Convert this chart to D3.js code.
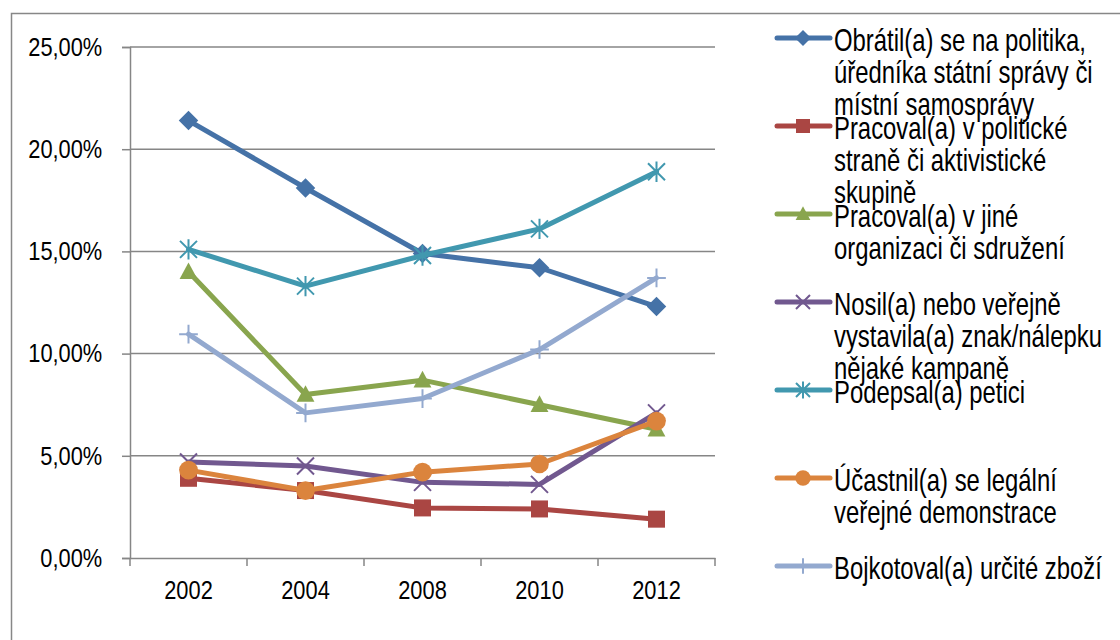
<!DOCTYPE html>
<html>
<head>
<meta charset="utf-8">
<script src="https://cdn.jsdelivr.net/npm/d3@7"></script>
<style>
  body { margin: 0; background: #fff; }
  svg { display: block; font-family: "Liberation Sans", Arial, sans-serif; }
</style>
</head>
<body>
<svg id="chart"></svg>
<script>
const years = ["2002", "2004", "2008", "2010", "2012"];
const yTicks = [0, 5, 10, 15, 20, 25];

const seriesNames = [
  "Obrátil(a) se na politika,\núředníka státní správy či\nmístní samosprávy",
  "Pracoval(a) v politické\nstraně či aktivistické\nskupině",
  "Pracoval(a) v jiné\norganizaci či sdružení",
  "Nosil(a) nebo veřejně\nvystavila(a) znak/nálepku\nnějaké kampaně",
  "Podepsal(a) petici",
  "Účastnil(a) se legální\nveřejné demonstrace",
  "Bojkotoval(a) určité zboží"
];

const politik = [21.4, 18.1, 14.9, 14.2, 12.3];
const strana = [3.9, 3.3, 2.45, 2.4, 1.9];
const organizace = [14.0, 8.0, 8.7, 7.5, 6.3];
const znak = [4.7, 4.5, 3.7, 3.6, 7.1];
const petice = [15.1, 13.3, 14.8, 16.1, 18.9];
const demonstrace = [4.3, 3.3, 4.2, 4.6, 6.7];
const bojkot = [10.95, 7.1, 7.8, 10.2, 13.7];

const seriesValues = [politik, strana, organizace, znak, petice, demonstrace, bojkot];
const colors = ["#4572A7", "#AA4643", "#89A54E", "#71588F", "#4198AF", "#DB843D", "#93A9CF"];
const markers = ["diamond", "square", "triangle", "x", "asterisk", "circle", "plus"];

const width = 1120, height = 640;
const margin = { top: 47, left: 130, right: 405, bottom: 82 };
const squeeze = 0.77;     // legend text in the picture is narrow and tall
const axisSqueeze = 0.84;

const svg = d3.select("#chart").attr("width", width).attr("height", height);

// outer frame
svg.append("path")
  .attr("d", `M11.5,${height} V13.5 H${width}`)
  .attr("fill", "none")
  .attr("stroke", "#878787")
  .attr("stroke-width", 1.5);

const x = d3.scaleBand()
  .domain(years)
  .range([margin.left, width - margin.right]);

const y = d3.scaleLinear()
  .domain([0, 25])
  .range([height - margin.bottom, margin.top]);

// gridlines
svg.append("g")
  .selectAll("line")
  .data(yTicks.slice(1))
  .join("line")
  .attr("x1", margin.left)
  .attr("x2", width - margin.right)
  .attr("y1", d => y(d))
  .attr("y2", d => y(d))
  .attr("stroke", "#868686")
  .attr("stroke-width", 1.5);

// y axis
const yAxis = svg.append("g")
  .attr("transform", `translate(${margin.left},0)`)
  .call(d3.axisLeft(y).tickValues(yTicks).tickSize(8).tickPadding(25)
    .tickFormat(d => d3.format(".2f")(d).replace(".", ",") + "%"));
yAxis.selectAll("line, path").attr("stroke", "#868686").attr("stroke-width", 1.5);
yAxis.selectAll("text")
  .attr("font-size", 26).attr("fill", "#000")
  .attr("font-family", "Liberation Sans, Arial, sans-serif")
  .attr("transform", `scale(${axisSqueeze},1)`);

// x axis
const xAxis = svg.append("g")
  .attr("transform", `translate(0,${y(0)})`)
  .call(d3.axisBottom(x).tickSize(0).tickPadding(23));
xAxis.select(".domain").attr("stroke", "#868686").attr("stroke-width", 1.5);
xAxis.selectAll(".tick text")
  .attr("font-size", 26).attr("fill", "#000")
  .attr("font-family", "Liberation Sans, Arial, sans-serif")
  .attr("transform", `scale(${axisSqueeze},1)`);
const bounds = years.map(d => x(d)).concat([x(years[years.length - 1]) + x.bandwidth()]);
xAxis.selectAll(".boundary")
  .data(bounds)
  .join("line")
  .attr("class", "boundary")
  .attr("x1", d => d).attr("x2", d => d)
  .attr("y1", 0).attr("y2", 8)
  .attr("stroke", "#868686").attr("stroke-width", 1.5);

function drawMarker(g, type, color, cx, cy, s) {
  const h = s / 2;
  if (type === "diamond") {
    g.append("path").attr("d", `M${cx},${cy - h * 1.15} L${cx + h * 1.15},${cy} L${cx},${cy + h * 1.15} L${cx - h * 1.15},${cy} Z`).attr("fill", color);
  } else if (type === "square") {
    g.append("rect").attr("x", cx - h).attr("y", cy - h).attr("width", s).attr("height", s).attr("fill", color);
  } else if (type === "triangle") {
    g.append("path").attr("d", `M${cx},${cy - h * 1.1} L${cx + h * 1.05},${cy + h * 0.85} L${cx - h * 1.05},${cy + h * 0.85} Z`).attr("fill", color);
  } else if (type === "circle") {
    g.append("circle").attr("cx", cx).attr("cy", cy).attr("r", h * 1.1).attr("fill", color);
  } else if (type === "x") {
    g.append("path").attr("d", `M${cx - h},${cy - h} L${cx + h},${cy + h} M${cx - h},${cy + h} L${cx + h},${cy - h}`)
      .attr("stroke", color).attr("stroke-width", 2).attr("fill", "none");
  } else if (type === "asterisk") {
    g.append("path").attr("d", `M${cx - h},${cy - h} L${cx + h},${cy + h} M${cx - h},${cy + h} L${cx + h},${cy - h} M${cx},${cy - h * 1.2} L${cx},${cy + h * 1.2}`)
      .attr("stroke", color).attr("stroke-width", 2).attr("fill", "none");
  } else if (type === "plus") {
    g.append("path").attr("d", `M${cx - h * 1.1},${cy} L${cx + h * 1.1},${cy} M${cx},${cy - h * 1.1} L${cx},${cy + h * 1.1}`)
      .attr("stroke", color).attr("stroke-width", 2).attr("fill", "none");
  }
}

const line = d3.line()
  .x((d, i) => x(years[i]) + x.bandwidth() / 2)
  .y(d => y(d));

seriesValues.forEach((vals, si) => {
  const g = svg.append("g");
  g.append("path")
    .datum(vals)
    .attr("fill", "none")
    .attr("stroke", colors[si])
    .attr("stroke-width", 5)
    .attr("stroke-linejoin", "round")
    .attr("stroke-linecap", "round")
    .attr("d", line);
  vals.forEach((v, i) => {
    drawMarker(g, markers[si], colors[si], x(years[i]) + x.bandwidth() / 2, y(v), 17);
  });
});

// legend
const legend = svg.append("g");
seriesNames.forEach((name, si) => {
  const ly = 38 + si * 88;
  const g = legend.append("g");
  g.append("line")
    .attr("x1", 777).attr("x2", 830)
    .attr("y1", ly).attr("y2", ly)
    .attr("stroke", colors[si]).attr("stroke-width", 5)
    .attr("stroke-linecap", "round");
  drawMarker(g, markers[si], colors[si], 803, ly, 14);
  const t = g.append("text")
    .attr("transform", `translate(834,${ly + 13}) scale(${squeeze},1)`)
    .attr("font-size", 31)
    .attr("fill", "#000");
  name.split("\n").forEach((ln, li) => {
    t.append("tspan").attr("x", 0).attr("dy", li === 0 ? 0 : 32).text(ln);
  });
});
</script>
</body>
</html>
